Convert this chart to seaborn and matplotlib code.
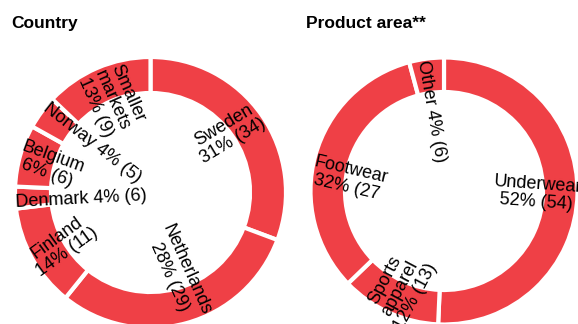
import matplotlib
matplotlib.use("Agg")
import matplotlib.pyplot as plt
import seaborn as sns

# ---- data ----
country_names = ["Sweden", "Netherlands", "Finland", "Denmark", "Belgium", "Norway", "Smaller\nmarkets"]
country_share = [30.7, 30.1, 12.3, 2.6, 7.4, 4.0, 12.9]       # drawn slice sizes
country_pct = [31, 28, 14, 4, 6, 4, 13]                        # labelled percentages
country_cnt = [34, 29, 11, 6, 6, 5, 9]                         # labelled counts
country_tpl = ["{n}\n{p}% ({c})", "{n}\n{p}% ({c})", "{n}\n{p}% ({c})",
               "{n} {p}% ({c})", "{n}\n{p}% ({c})", "{n} {p}% ({c})", "{n}\n{p}% ({c})"]

product_names = ["Underwear", "Sports\napparel", "Footwear", "Other"]
product_share = [50.7, 12.1, 33.0, 4.2]
product_pct = [52, 12, 32, 4]
product_cnt = [54, 13, 27, 6]
product_tpl = ["{n}\n{p}% ({c})", "{n}\n{p}% ({c})", "{n}\n{p}% ({c}", "{n} {p}% ({c})"]

titles = ["Country", "Product area**"]

# ---- style ----
sns.set_theme(style="white")
plt.rcParams["font.family"] = ["Liberation Sans", "DejaVu Sans"]
RED = "#ef4046"
W, H = 578, 324
fig = plt.figure(figsize=(W / 100, H / 100), dpi=100)

def donut(cx, cy, r, inner, sizes, names, pcts, cnts, tpls, layout):
    ax = fig.add_axes([(cx - r) / W, (H - cy - r) / H, 2 * r / W, 2 * r / H])
    colors = sns.color_palette([RED] * len(sizes))
    ax.pie(sizes, startangle=90, counterclock=False, colors=colors, radius=1,
           wedgeprops=dict(width=1 - inner / r, edgecolor="white", linewidth=3))
    ax.set_xlim(-1, 1)
    ax.set_ylim(-1, 1)
    ax.set_axis_off()
    for n, p, c, t, (x, y, rot) in zip(names, pcts, cnts, tpls, layout):
        fig.text(x / W, 1 - y / H, t.format(n=n, p=p, c=c), ha="center", va="center",
                 rotation=rot, rotation_mode="anchor", multialignment="center",
                 fontsize=13, color="#000000", linespacing=1.05)
    return ax

country_layout = [(228, 133, 31), (178, 273, -66), (62, 245, 36), (81, 199, 3),
                  (50, 165, -20), (92, 143, -38), (112, 100, -66)]
product_layout = [(537, 193, -4), (400, 288, 62), (349, 179, -13), (431, 111, -80)]

donut(150.5, 192.5, 135.5, 99.5, country_share, country_names, country_pct,
      country_cnt, country_tpl, country_layout)
donut(444, 191, 133.5, 99, product_share, product_names, product_pct,
      product_cnt, product_tpl, product_layout)

fig.text(11 / W, 1 - 28 / H, titles[0], fontsize=12.5, fontweight="bold", va="baseline",
         ha="left", color="#000000")
fig.text(306 / W, 1 - 28 / H, titles[1], fontsize=12.5, fontweight="bold", va="baseline",
         ha="left", color="#000000")

fig.savefig("out.png", dpi=100)
